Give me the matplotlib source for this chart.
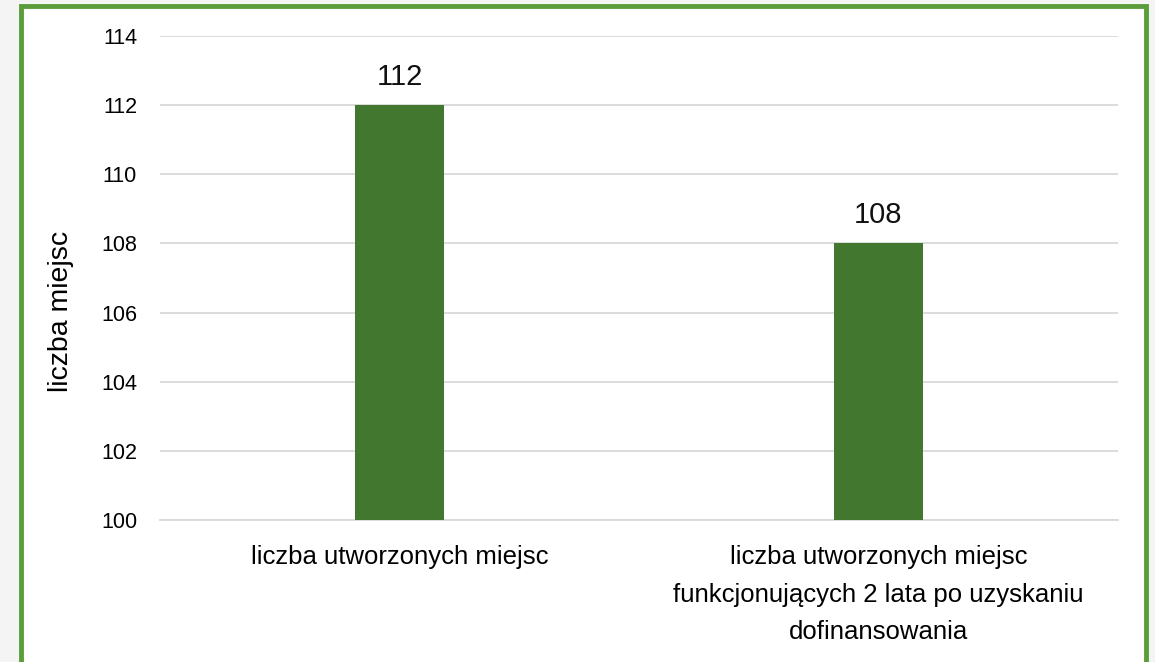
import matplotlib.pyplot as plt
from matplotlib.patches import Rectangle

categories = ["liczba utworzonych miejsc",
              "liczba utworzonych miejsc\nfunkcjonujących 2 lata po uzyskaniu\ndofinansowania"]
values = [112, 108]
y_ticks = [100, 102, 104, 106, 108, 110, 112, 114]

plt.rcParams['font.family'] = ['Liberation Sans', 'DejaVu Sans']

fig = plt.figure(figsize=(11.55, 6.62), dpi=100, facecolor="#f4f4f4")

# white panel with green frame (bottom edge runs off the picture)
panel = Rectangle((21/1155, -0.05), (1146-21)/1155, 1.05 - 6/662,
                  transform=fig.transFigure, facecolor="white",
                  edgecolor="#5a9e3c", linewidth=3.5, zorder=-10)
fig.patches.append(panel)

ax = fig.add_axes([160/1155, 1 - 520/662, (1118-160)/1155, (520-36)/662])
ax.set_facecolor("none")
ax.set_zorder(5)

x = range(len(categories))
bars = ax.bar(x, values, width=0.184, color="#41772e", zorder=3)
for b, v in zip(bars, values):
    ax.text(b.get_x() + b.get_width()/2, v + 0.42, str(v),
            ha="center", va="bottom", fontsize=21, color="#111111")

ax.set_xlim(-0.5, 1.5)
ax.set_ylim(100, 114)
ax.set_yticks(y_ticks)
ax.set_xticks(list(x))
ax.set_xticklabels(categories, fontsize=18.5, linespacing=1.72)
ax.tick_params(axis="y", length=0, pad=16.5, labelsize=15.5)
ax.tick_params(axis="x", length=0, pad=18)
ax.grid(axis="y", color="#d9d9d9", linewidth=1.3, zorder=0)
for s in ["top", "right", "left"]:
    ax.spines[s].set_visible(False)
ax.spines["bottom"].set_color("#d9d9d9")
ax.spines["bottom"].set_linewidth(1.3)

ax.set_ylabel("liczba miejsc", fontsize=20.5)
ax.yaxis.set_label_coords(-0.090, 0.43)

fig.savefig("out.png", dpi=100, facecolor=fig.get_facecolor())
